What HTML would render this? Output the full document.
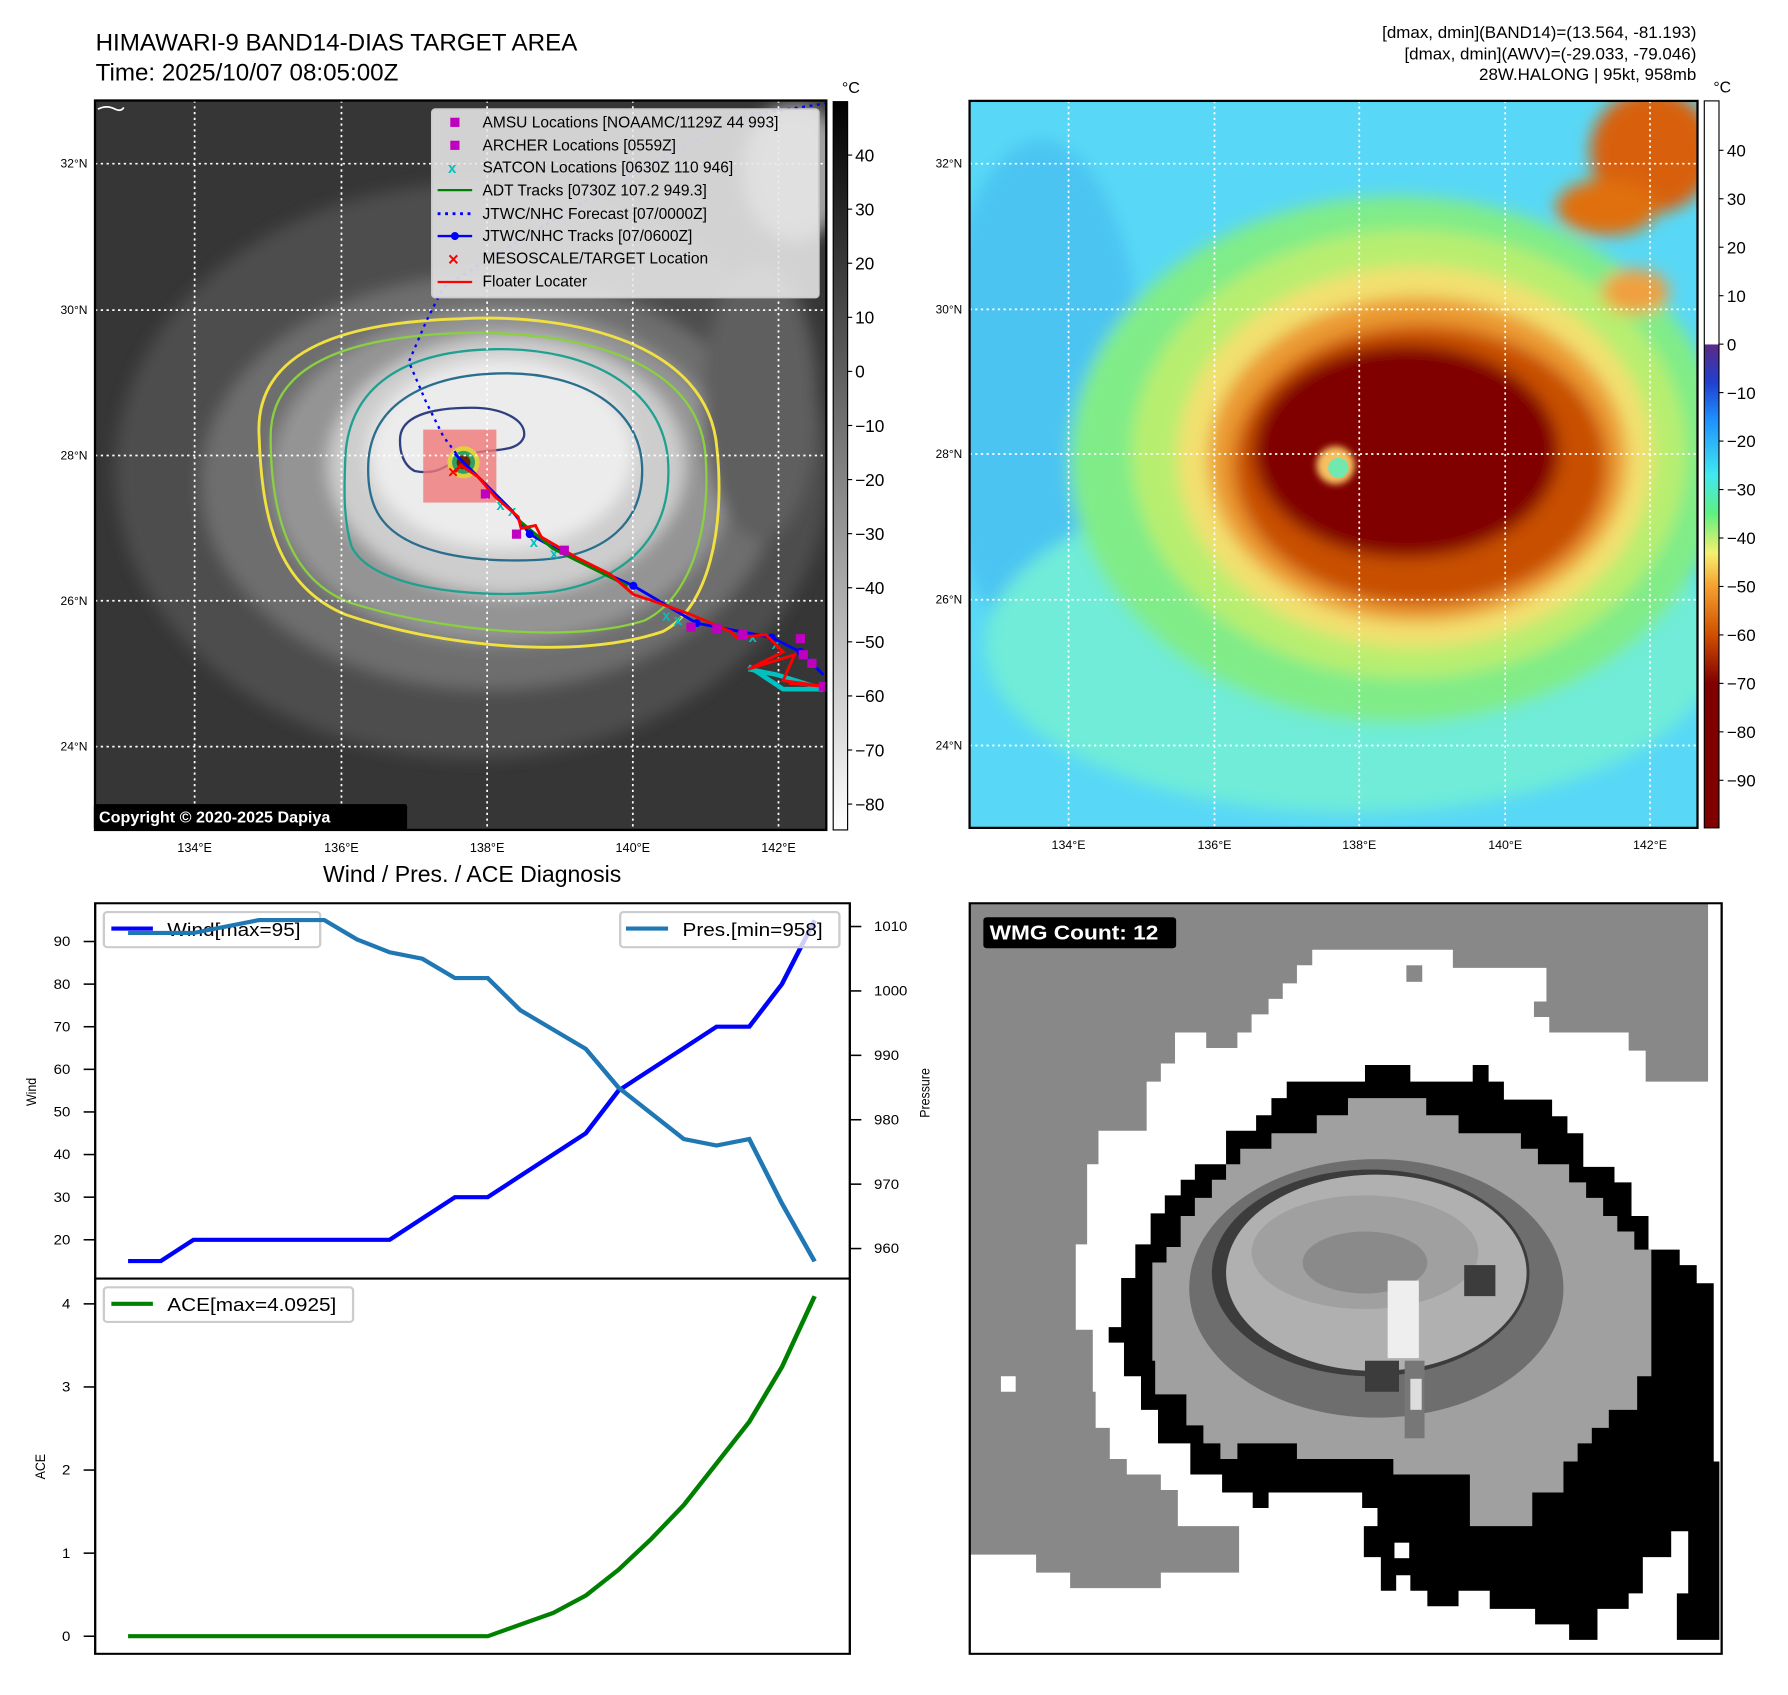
<!DOCTYPE html>
<html><head><meta charset="utf-8"><style>
html,body{margin:0;padding:0;background:#fff;}
svg text{font-family:"Liberation Sans","DejaVu Sans",sans-serif;}
svg svg{overflow:visible;}
</style></head><body>
<svg id="root" width="1788" height="1690" xmlns="http://www.w3.org/2000/svg">
<defs>
<filter id="b12" x="-30%" y="-30%" width="160%" height="160%"><feGaussianBlur stdDeviation="14"/></filter>
<filter id="b6" x="-30%" y="-30%" width="160%" height="160%"><feGaussianBlur stdDeviation="6"/></filter>
<clipPath id="clipL"><rect x="165" y="175" width="1270" height="1270"/></clipPath>
<clipPath id="clipR"><rect x="123" y="180" width="1287" height="1297"/></clipPath>
<linearGradient id="gcb" x1="0" y1="0" x2="0" y2="1"><stop offset="0" stop-color="#000"/><stop offset="1" stop-color="#fff"/></linearGradient>
<linearGradient id="ccb" x1="0" y1="0" x2="0" y2="1">
<stop offset="0" stop-color="#fff"/><stop offset="0.334" stop-color="#fff"/>
<stop offset="0.336" stop-color="#5b2a86"/><stop offset="0.388" stop-color="#2040d0"/>
<stop offset="0.438" stop-color="#1e90ff"/><stop offset="0.514" stop-color="#40e8f0"/>
<stop offset="0.568" stop-color="#60f080"/><stop offset="0.622" stop-color="#f5f070"/>
<stop offset="0.668" stop-color="#f5a030"/><stop offset="0.734" stop-color="#d05000"/>
<stop offset="0.801" stop-color="#800000"/><stop offset="1" stop-color="#800000"/>
</linearGradient>
</defs>

<!-- TOP LEFT -->
<svg x="0" y="0" width="900" height="900" viewBox="0 0 1563 1567" preserveAspectRatio="none">
<text x="166" y="88" font-size="42" fill="#000">HIMAWARI-9 BAND14-DIAS TARGET AREA</text>
<text x="166" y="140" font-size="42" fill="#000">Time: 2025/10/07 08:05:00Z</text>
<g clip-path="url(#clipL)">
<rect x="165" y="175" width="1270" height="1270" fill="#363636"/>
<g filter="url(#b12)">
<ellipse cx="820" cy="820" rx="620" ry="500" fill="#4e4e4e"/>
<ellipse cx="850" cy="840" rx="500" ry="360" fill="#6e6e6e"/>
<ellipse cx="870" cy="830" rx="400" ry="290" fill="#949494"/>
<ellipse cx="880" cy="810" rx="310" ry="225" fill="#cdcdcd"/>
<ellipse cx="870" cy="790" rx="230" ry="165" fill="#ececec"/>
<ellipse cx="1320" cy="700" rx="100" ry="240" fill="#5e5e5e"/>
<ellipse cx="1380" cy="300" rx="90" ry="120" fill="#a0a0a0"/>
</g>
<path d="M450,760 C440,600 620,560 800,555 C1000,545 1230,600 1245,780 C1260,920 1230,1060 1150,1100 C1000,1150 760,1125 600,1070 C480,1020 455,900 450,760 Z" fill="none" stroke="#f0e040" stroke-width="5"/>
<path d="M470,760 C470,620 640,585 800,580 C990,575 1210,620 1225,790 C1235,920 1200,1040 1120,1080 C1000,1120 770,1100 610,1050 C500,1010 470,890 470,760 Z" fill="none" stroke="#8ad040" stroke-width="4"/>
<path d="M600,790 C610,660 720,610 860,608 C1030,605 1150,680 1160,800 C1170,930 1090,1010 960,1030 C810,1045 640,1020 610,950 C595,900 598,840 600,790 Z" fill="none" stroke="#20a090" stroke-width="4"/>
<path d="M640,800 C650,690 760,650 880,650 C1010,650 1110,710 1115,810 C1120,910 1050,970 930,975 C810,980 700,960 660,900 C640,870 638,830 640,800 Z" fill="none" stroke="#2a6e8e" stroke-width="4"/>
<path d="M695,760 C700,720 760,710 820,710 C870,710 915,730 910,760 C900,790 850,780 820,790 C780,800 770,830 720,820 C700,810 693,785 695,760 Z" fill="none" stroke="#303f80" stroke-width="4"/>
<rect x="735" y="748" width="127" height="127" fill="#f07878" opacity="0.8"/>
<circle cx="805" cy="805" r="28" fill="#e0d040"/><circle cx="805" cy="805" r="20" fill="#30a060"/><circle cx="805" cy="805" r="12" fill="#702000"/>
<g stroke="#fff" stroke-width="3" stroke-dasharray="4,6">
<line x1="338" y1="175" x2="338" y2="1445"/><line x1="593" y1="175" x2="593" y2="1445"/><line x1="846" y1="175" x2="846" y2="1445"/><line x1="1099" y1="175" x2="1099" y2="1445"/><line x1="1352" y1="175" x2="1352" y2="1445"/>
<line x1="165" y1="285" x2="1435" y2="285"/><line x1="165" y1="540" x2="1435" y2="540"/><line x1="165" y1="793" x2="1435" y2="793"/><line x1="165" y1="1046" x2="1435" y2="1046"/><line x1="165" y1="1300" x2="1435" y2="1300"/>
</g>
<polyline points="800,800 770,760 740,700 710,630 740,560 770,500 900,420 1100,300 1300,200 1435,180" fill="none" stroke="#0000ff" stroke-width="4" stroke-dasharray="5,8"/>
<polyline points="1300,1165 1350,1175 1430,1200 1360,1200 1300,1160" fill="none" stroke="#00c0c0" stroke-width="8"/>
<g fill="#00c0c0" font-size="26" font-weight="bold">
<text x="862" y="888">x</text><text x="882" y="898">x</text><text x="920" y="952">x</text><text x="955" y="972">x</text><text x="1150" y="1080">x</text><text x="1170" y="1088">x</text><text x="1300" y="1118">x</text><text x="1340" y="1130">x</text></g>
<polyline points="790,790 805,805 845,845 890,890 920,930 1000,975 1100,1020 1210,1085 1340,1110 1390,1135 1430,1175" fill="none" stroke="#0000ff" stroke-width="5"/>
<polyline points="900,905 960,955 1090,1020" fill="none" stroke="#008000" stroke-width="5"/>
<g fill="#0000ff"><circle cx="920" cy="930" r="7"/><circle cx="1100" cy="1020" r="7"/><circle cx="1210" cy="1085" r="7"/><circle cx="1340" cy="1110" r="7"/><circle cx="1390" cy="1135" r="7"/></g>
<polyline points="790,822 800,810 830,830 860,865 900,900 905,920 930,915 940,935 1000,970 1060,1000 1100,1035 1130,1045 1200,1070 1270,1100 1280,1110 1330,1105 1360,1135 1300,1165 1380,1140 1360,1185 1430,1195 1370,1190" fill="none" stroke="#ff0000" stroke-width="5"/>
<g fill="#c000c0"><rect x="835" y="852" width="16" height="16"/><rect x="889" y="922" width="16" height="16"/><rect x="972" y="950" width="16" height="16"/><rect x="1192" y="1084" width="16" height="16"/><rect x="1237" y="1087" width="16" height="16"/><rect x="1282" y="1097" width="16" height="16"/><rect x="1382" y="1104" width="16" height="16"/><rect x="1387" y="1132" width="16" height="16"/><rect x="1402" y="1147" width="16" height="16"/><rect x="1422" y="1187" width="16" height="16"/></g>
<text x="778" y="832" font-size="30" fill="#ff0000" font-weight="bold">×</text>
<path d="M170,190 q15,-8 30,0 q10,5 15,-3" fill="none" stroke="#fff" stroke-width="3"/>
</g>
<rect x="165" y="175" width="1270" height="1270" fill="none" stroke="#000" stroke-width="4"/>
<g>
<rect x="750" y="190" width="672" height="328" rx="6" fill="#e8e8e8" fill-opacity="0.88" stroke="#ccc" stroke-width="3"/>
<rect x="782" y="205" width="16" height="16" fill="#c000c0"/>
<rect x="782" y="245" width="16" height="16" fill="#c000c0"/>
<text x="778" y="301" font-size="26" fill="#00c0c0" font-weight="bold">x</text>
<line x1="760" y1="331" x2="820" y2="331" stroke="#008000" stroke-width="4"/>
<line x1="760" y1="372" x2="820" y2="372" stroke="#0000ff" stroke-width="5" stroke-dasharray="5,8"/>
<line x1="760" y1="411" x2="820" y2="411" stroke="#0000ff" stroke-width="4"/><circle cx="790" cy="411" r="7" fill="#0000ff"/>
<text x="778" y="462" font-size="32" fill="#ff0000" font-weight="bold">×</text>
<line x1="760" y1="491" x2="820" y2="491" stroke="#ff0000" stroke-width="4"/>
<g font-size="27" fill="#000">
<text x="838" y="222">AMSU Locations [NOAAMC/1129Z 44 993]</text>
<text x="838" y="262">ARCHER Locations [0559Z]</text>
<text x="838" y="300">SATCON Locations [0630Z 110 946]</text>
<text x="838" y="340">ADT Tracks [0730Z 107.2 949.3]</text>
<text x="838" y="381">JTWC/NHC Forecast [07/0000Z]</text>
<text x="838" y="420">JTWC/NHC Tracks [07/0600Z]</text>
<text x="838" y="459">MESOSCALE/TARGET Location</text>
<text x="838" y="499">Floater Locater</text></g>
</g>
<g><rect x="163" y="1400" width="544" height="45" rx="4" fill="#000"/>
<text x="172" y="1432" font-size="28" font-weight="bold" fill="#fff">Copyright © 2020-2025 Dapiya</text></g>
<g font-size="21" fill="#000" text-anchor="end">
<text x="152" y="292">32°N</text><text x="152" y="547">30°N</text><text x="152" y="800">28°N</text><text x="152" y="1053">26°N</text><text x="152" y="1307">24°N</text></g>
<g font-size="22" fill="#000" text-anchor="middle">
<text x="338" y="1483">134°E</text><text x="593" y="1483">136°E</text><text x="846" y="1483">138°E</text><text x="1099" y="1483">140°E</text><text x="1352" y="1483">142°E</text></g>
<rect x="1447" y="177" width="25" height="1268" fill="url(#gcb)" stroke="#000" stroke-width="2"/>
<text x="1462" y="162" font-size="28">°C</text>
<g id="gcbl" font-size="30" fill="#000"></g>
<text x="820" y="1536" font-size="40" text-anchor="middle">Wind / Pres. / ACE Diagnosis</text>
</svg>

<!-- TOP RIGHT -->
<svg x="900" y="0" width="888" height="880" viewBox="0 0 1570 1570" preserveAspectRatio="none">
<g font-size="30" text-anchor="end" fill="#000">
<text x="1408" y="68">[dmax, dmin](BAND14)=(13.564, -81.193)</text>
<text x="1408" y="106">[dmax, dmin](AWV)=(-29.033, -79.046)</text>
<text x="1408" y="143">28W.HALONG | 95kt, 958mb</text></g>
<g clip-path="url(#clipR)">
<rect x="123" y="180" width="1287" height="1297" fill="#58d8f6"/>
<g filter="url(#b12)">
<ellipse cx="250" cy="700" rx="180" ry="450" fill="#4cc4f2"/>
<ellipse cx="800" cy="1150" rx="650" ry="300" fill="#70ecd8"/>
<ellipse cx="880" cy="820" rx="580" ry="470" fill="#80ec88"/>
<ellipse cx="900" cy="810" rx="490" ry="400" fill="#b8ee70"/>
<ellipse cx="910" cy="815" rx="420" ry="340" fill="#f2e070"/>
<ellipse cx="915" cy="820" rx="370" ry="290" fill="#eb9a30"/>
<ellipse cx="920" cy="830" rx="330" ry="250" fill="#c85000"/>
<ellipse cx="895" cy="805" rx="270" ry="190" fill="#800000"/>
<ellipse cx="1330" cy="270" rx="110" ry="110" fill="#d86010"/>
<ellipse cx="1250" cy="370" rx="90" ry="50" fill="#e07010"/>
<ellipse cx="1300" cy="520" rx="60" ry="40" fill="#f0a040"/>
</g>
<circle cx="770" cy="830" r="34" fill="#f5c060" filter="url(#b6)"/>
<circle cx="775" cy="835" r="18" fill="#70e8b0"/>
<g stroke="#fff" stroke-width="3" stroke-dasharray="4,6">
<line x1="298" y1="180" x2="298" y2="1477"/><line x1="556" y1="180" x2="556" y2="1477"/><line x1="812" y1="180" x2="812" y2="1477"/><line x1="1070" y1="180" x2="1070" y2="1477"/><line x1="1326" y1="180" x2="1326" y2="1477"/>
<line x1="123" y1="292" x2="1410" y2="292"/><line x1="123" y1="552" x2="1410" y2="552"/><line x1="123" y1="810" x2="1410" y2="810"/><line x1="123" y1="1070" x2="1410" y2="1070"/><line x1="123" y1="1330" x2="1410" y2="1330"/>
</g>
</g>
<rect x="123" y="180" width="1287" height="1297" fill="none" stroke="#000" stroke-width="4"/>
<g font-size="21" text-anchor="end"><text x="110" y="299">32°N</text><text x="110" y="559">30°N</text><text x="110" y="817">28°N</text><text x="110" y="1077">26°N</text><text x="110" y="1337">24°N</text></g>
<g font-size="22" text-anchor="middle"><text x="298" y="1515">134°E</text><text x="556" y="1515">136°E</text><text x="812" y="1515">138°E</text><text x="1070" y="1515">140°E</text><text x="1326" y="1515">142°E</text></g>
<rect x="1422" y="180" width="26" height="1297" fill="url(#ccb)" stroke="#000" stroke-width="2"/>
<text x="1438" y="165" font-size="28">°C</text>
<g id="ccbl" font-size="30" fill="#000"></g>
</svg>

<!-- BOTTOM LEFT -->
<svg x="0" y="880" width="900" height="810" viewBox="0 0 1560 1567" preserveAspectRatio="none">
<g id="chart"></g>
</svg>

<!-- BOTTOM RIGHT -->
<svg x="900" y="880" width="888" height="810" viewBox="0 0 1566 1567" preserveAspectRatio="none">
<text transform="translate(52,412) rotate(-90)" font-size="24" text-anchor="middle">Pressure</text>
<rect x="123" y="45" width="1326" height="1452" fill="#888"/>
<polygon fill="#fff" points="727,135 975,135 975,170 1140,170 1140,235 1118,235 1118,265 1145,265 1145,295 1285,295 1285,330 1315,330 1315,390 1425,390 1425,45 1449,45 1449,1497 123,1497 123,1305 240,1305 240,1340 300,1340 300,1370 460,1370 460,1340 598,1340 598,1250 490,1250 490,1180 460,1180 460,1150 400,1150 400,1120 370,1120 370,1060 345,1060 345,990 340,990 340,870 310,870 310,705 330,705 330,550 350,550 350,485 435,485 435,390 460,390 460,355 485,355 485,295 540,295 540,325 595,325 595,295 620,295 620,260 650,260 650,230 675,230 675,200 700,200 700,165 727,165"/>
<rect x="893" y="165" width="28" height="32" fill="#888"/>
<rect x="178" y="960" width="26" height="30" fill="#fff"/>
<polygon fill="#000" points="820,358 900,358 900,390 1010,390 1010,358 1038,358 1038,390 1065,390 1065,425 1150,425 1150,457 1177,457 1177,490 1205,490 1205,555 1260,555 1260,585 1290,585 1290,650 1320,650 1320,715 1375,715 1375,745 1405,745 1405,780 1435,780 1435,1125 1445,1125 1445,1470 1370,1470 1370,1380 1390,1380 1390,1260 1360,1260 1360,1310 1310,1310 1310,1380 1285,1380 1285,1410 1230,1410 1230,1470 1180,1470 1180,1440 1120,1440 1120,1410 1040,1410 1040,1375 985,1375 985,1405 930,1405 930,1375 900,1375 900,1345 875,1345 875,1375 848,1375 848,1310 818,1310 818,1250 842,1250 842,1215 815,1215 815,1185 650,1185 650,1215 622,1215 622,1185 568,1185 568,1150 512,1150 512,1090 455,1090 455,1025 425,1025 425,960 395,960 395,895 368,895 368,865 390,865 390,770 415,770 415,705 442,705 442,645 467,645 467,610 495,610 495,580 520,580 520,550 575,550 575,485 628,485 628,455 655,455 655,422 682,422 682,390 820,390"/>
<rect x="872" y="1282" width="26" height="30" fill="#fff"/>
<polygon fill="#a0a0a0" points="790,422 928,422 928,455 985,455 985,490 1095,490 1095,520 1125,520 1125,550 1180,550 1180,585 1210,585 1210,615 1240,615 1240,650 1265,650 1265,680 1295,680 1295,715 1325,715 1325,960 1300,960 1300,1025 1250,1025 1250,1060 1220,1060 1220,1090 1195,1090 1195,1125 1170,1125 1170,1185 1115,1185 1115,1250 1005,1250 1005,1150 870,1150 870,1120 700,1120 700,1090 595,1090 595,1120 565,1120 565,1090 535,1090 535,1055 505,1055 505,995 450,995 450,930 445,930 445,740 470,740 470,710 495,710 495,650 520,650 520,615 550,615 550,580 575,580 575,550 600,550 600,520 655,520 655,490 735,490 735,455 790,455"/>
<ellipse cx="840" cy="790" rx="330" ry="250" fill="#6e6e6e"/>
<ellipse cx="830" cy="760" rx="280" ry="200" fill="#3c3c3c"/>
<ellipse cx="840" cy="760" rx="265" ry="190" fill="#b0b0b0"/>
<ellipse cx="820" cy="720" rx="200" ry="110" fill="#a0a0a0"/>
<ellipse cx="820" cy="740" rx="110" ry="60" fill="#8a8a8a"/>
<rect x="995" y="745" width="55" height="60" fill="#3c3c3c"/>
<rect x="860" y="775" width="55" height="150" fill="#eee"/>
<rect x="890" y="930" width="35" height="150" fill="#777"/>
<rect x="900" y="965" width="20" height="60" fill="#ddd"/>
<rect x="820" y="930" width="60" height="60" fill="#3c3c3c"/>
<rect x="147" y="72" width="340" height="60" rx="6" fill="#000"/>
<text x="158" y="115" font-size="40" font-weight="bold" fill="#fff">WMG Count: 12</text>
<rect x="123" y="45" width="1326" height="1452" fill="none" stroke="#000" stroke-width="4"/>
</svg>
</svg>

<script>
const categories = Array.from({length:22},(_, i)=>i);
const windValues = [15,15,20,20,20,20,20,20,20,25,30,30,35,40,45,55,60,65,70,70,80,95];
const presValues = [1009,1009,1009,1010,1011,1011,1011,1008,1006,1005,1002,1002,997,994,991,985,981,977,976,977,967,958];
const aceValues = [0,0,0,0,0,0,0,0,0,0,0,0,0.14,0.28,0.49,0.8,1.17,1.58,2.08,2.58,3.24,4.0925];
const windTicks = [20,30,40,50,60,70,80,90];
const presTicks = [960,970,980,990,1000,1010];
const aceTicks = [0,1,2,3,4];
const grayCbTicks = [40,30,20,10,0,-10,-20,-30,-40,-50,-60,-70,-80];
const colorCbTicks = [40,30,20,10,0,-10,-20,-30,-40,-50,-60,-70,-80,-90];

const NS='http://www.w3.org/2000/svg';
function mk(tag, attrs, parent, txt){const e=document.createElementNS(NS,tag);for(const k in attrs)e.setAttribute(k,attrs[k]);if(txt!==undefined)e.textContent=txt;parent.appendChild(e);return e;}
const xS = i => 222 + i*(1412-222)/(categories.length-1);
const yW = v => 696 - (v-20)*(696-119)/70;
const yP = p => 713 - (p-960)*(713-90)/50;
const yA = a => 1463 - a*(1463-820)/4;
const g = document.getElementById('chart');
const minus = s => String(s).replace('-','\u2212');

const gl=document.getElementById('gcbl');
grayCbTicks.forEach(v=>{const y=270+(40-v)*(1400-270)/120;
 mk('line',{x1:1472,x2:1480,y1:y,y2:y,stroke:'#000','stroke-width':2},gl);
 const t=mk('text',{x:1485,y:y+11},gl,minus(v));
 
 });
const cl=document.getElementById('ccbl');
colorCbTicks.forEach(v=>{const y=614-v*8.646;
 mk('line',{x1:1448,x2:1456,y1:y,y2:y,stroke:'#000','stroke-width':2},cl);
 const t=mk('text',{x:1462,y:y+11},cl,minus(v));
 
 });

let t=mk('text',{transform:'translate(62,410) rotate(-90)','font-size':24,'text-anchor':'middle'},g,'Wind');


t=mk('text',{transform:'translate(78,1135) rotate(-90)','font-size':24,'text-anchor':'middle'},g,'ACE');



windTicks.forEach(v=>{const y=yW(v);mk('line',{x1:145,x2:165,y1:y,y2:y,stroke:'#000','stroke-width':3},g);
 const e=mk('text',{x:122,y:y+9,'font-size':26,'text-anchor':'end'},g,v);
 
 });
presTicks.forEach(v=>{const y=yP(v);mk('line',{x1:1473,x2:1493,y1:y,y2:y,stroke:'#000','stroke-width':3},g);
 const e=mk('text',{x:1515,y:y+9,'font-size':26},g,v);
 
 });
aceTicks.forEach(v=>{const y=yA(v);mk('line',{x1:145,x2:165,y1:y,y2:y,stroke:'#000','stroke-width':3},g);
 const e=mk('text',{x:122,y:y+9,'font-size':26,'text-anchor':'end'},g,v);
 
 });

const pts=(arr,fy)=>arr.map((v,i)=>xS(i)+','+fy(v)).join(' ');
let l=mk('polyline',{points:pts(windValues,yW),fill:'none',stroke:'#0000ff','stroke-width':8},g);


let lg=mk('g',{},g);


mk('rect',{x:180,y:62,width:375,height:68,rx:6,fill:'#fff','fill-opacity':0.8,stroke:'#ccc','stroke-width':4},lg);
mk('line',{x1:193,x2:265,y1:94,y2:94,stroke:'#0000ff','stroke-width':8},lg);
mk('text',{x:290,y:108,'font-size':36},lg,'Wind[max='+Math.max(...windValues)+']');
l=mk('polyline',{points:pts(presValues,yP),fill:'none',stroke:'#1f77b4','stroke-width':8},g);


lg=mk('g',{},g);


mk('rect',{x:1075,y:62,width:380,height:68,rx:6,fill:'#fff','fill-opacity':0.8,stroke:'#ccc','stroke-width':4},lg);
mk('line',{x1:1085,x2:1158,y1:94,y2:94,stroke:'#1f77b4','stroke-width':8},lg);
mk('text',{x:1183,y:108,'font-size':36},lg,'Pres.[min='+Math.min(...presValues)+']');
l=mk('polyline',{points:pts(aceValues,yA),fill:'none',stroke:'#008000','stroke-width':8},g);


lg=mk('g',{},g);


mk('rect',{x:180,y:788,width:432,height:67,rx:6,fill:'#fff','fill-opacity':0.8,stroke:'#ccc','stroke-width':4},lg);
mk('line',{x1:193,x2:265,y1:820,y2:820,stroke:'#008000','stroke-width':8},lg);
mk('text',{x:290,y:834,'font-size':36},lg,'ACE[max='+Math.max(...aceValues)+']');
mk('rect',{x:165,y:45,width:1308,height:726,fill:'none',stroke:'#000','stroke-width':4},g);
mk('rect',{x:165,y:771,width:1308,height:726,fill:'none',stroke:'#000','stroke-width':4},g);
</script>
</body></html>
